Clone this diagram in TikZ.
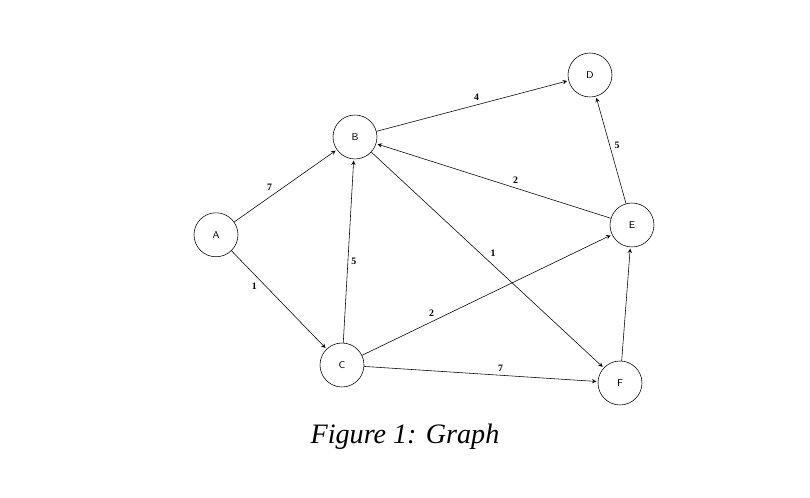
\documentclass[tikz,border=0pt]{standalone}
\usepackage{fontspec}
\setmainfont{Liberation Serif}
\usepackage{tikz}
\usetikzlibrary{automata,arrows,positioning}

\begin{document}
\begin{tikzpicture}[shorten >=1pt,auto,
    every state/.style={draw,thin,minimum size=1.1cm,inner sep=0pt,font=\fontsize{7}{8}\sffamily},
    wt/.style={font=\fontsize{7}{8}\selectfont\bfseries,inner sep=2pt}]
   \useasboundingbox (0,0) rectangle (20.25,12.45);
   \node[state] (A) at (5.4,6.58) {A};
   \node[state] (B) at (8.875,9.025) {B};
   \node[state] (C) at (8.55,3.325) {C};
   \node[state] (D) at (14.75,10.575) {D};
   \node[state] (E) at (15.8,6.825) {E};
   \node[state] (F) at (15.5,2.875) {F};

   \path[->,>=stealth]
    (A) edge node[wt,pos=0.4] {7} (B)
        edge node[wt,pos=0.3,swap] {1} (C)
    (C) edge node[wt,pos=0.48,swap] {5} (B)
        edge node[wt,pos=0.3] {2} (E)
        edge node[wt,pos=0.56] {7} (F)
    (B) edge node[wt,pos=0.55] {4} (D)
        edge node[wt,pos=0.5] {1} (F)
    (E) edge node[wt,pos=0.48,swap] {5} (D)
        edge node[wt,pos=0.43,swap] {2} (B)
    (F) edge (E);

   \node (cap) at (10.125,1.525) {\fontsize{20}{24}\selectfont\itshape Figure 1: Graph};
\end{tikzpicture}
\end{document}
